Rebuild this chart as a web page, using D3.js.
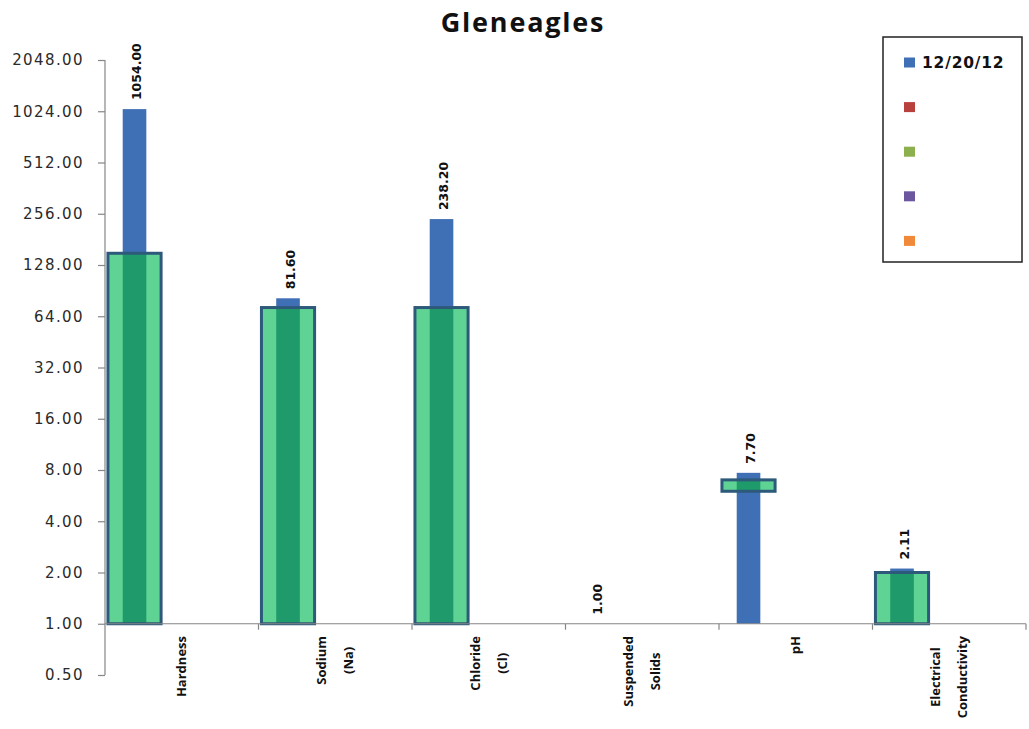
<!DOCTYPE html>
<html>
<head>
<meta charset="utf-8">
<script src="https://cdn.jsdelivr.net/npm/d3@7"></script>
<style>
  html, body { margin: 0; padding: 0; background: #fff; }
  svg { display: block; }
</style>
</head>
<body>
<svg id="chart" width="1029" height="729"></svg>
<script>
// Water quality parameters sampled at Gleneagles
const categories = ["Hardness", "Sodium (Na)", "Chloride (Cl)", "Suspended Solids", "pH", "Electrical Conductivity"];
// Sample results, 12/20/12
const sampleValues = [1054.00, 81.60, 238.20, 1.00, 7.70, 2.11];
// Guideline band drawn behind the results (lower / upper bound)
const guideLow  = [1, 1, 1, null, 6, 1];
const guideHigh = [150, 72, 72, null, 7, 2];
// Legend series (only the first one carries a date)
const seriesNames = ["12/20/12", "", "", "", ""];
// Y axis tick values (log base 2)
const yTicks = [0.5, 1, 2, 4, 8, 16, 32, 64, 128, 256, 512, 1024, 2048];

const seriesColors = ["#3f6fb4", "#b8403d", "#8cb04e", "#6a57a0", "#f08a3a"];
const guideFill = "#5fd393", guideStripe = "#1f9a6a", guideEdge = "#2d5a7b";

const svg = d3.select("#chart");
svg.append("rect").attr("width", 1029).attr("height", 729).attr("fill", "#fff");

const plot = { left: 105, right: 1026, top: 60, bottom: 675 };

const x = d3.scaleBand().domain(categories).range([plot.left, plot.right]).paddingInner(0).paddingOuter(0);
const cluster = d3.scaleBand().domain(d3.range(seriesNames.length)).range([0, x.bandwidth()])
  .paddingInner(0).paddingOuter(0.75);
const y = d3.scaleLog().base(2).domain([0.5, 2048]).range([plot.bottom, plot.top]);
const yBase = y(1);  // category axis crosses at 1.00

// Title
svg.append("text")
  .attr("x", 523).attr("y", 32)
  .attr("text-anchor", "middle")
  .attr("font-family", "'Open Sans', sans-serif")
  .attr("font-weight", "bold")
  .attr("font-size", 27)
  .attr("letter-spacing", 1.8)
  .attr("fill", "#111")
  .text("Gleneagles");

// Y axis
const yAxis = svg.append("g")
  .attr("transform", `translate(${plot.left},0)`)
  .call(d3.axisLeft(y).tickValues(yTicks).tickFormat(d3.format(".2f")).tickSize(7).tickPadding(14));
yAxis.select(".domain").attr("stroke", "#868686").attr("stroke-width", 1.2).attr("d", `M0,${plot.top}V${plot.bottom}`);
yAxis.selectAll(".tick line").attr("stroke", "#868686").attr("stroke-width", 1.2);
yAxis.selectAll(".tick text")
  .attr("font-family", "'DejaVu Sans', Verdana, sans-serif")
  .attr("font-size", 15)
  .attr("letter-spacing", 1.4)
  .attr("fill", "#2a2a2a");

const barW = cluster.bandwidth();
const centerOf = (c) => x(c) + cluster(0) + barW / 2;

// Sample bars (series 1)
svg.append("g").selectAll("rect")
  .data(categories.map((c, i) => ({ c, v: sampleValues[i] })))
  .join("rect")
  .attr("x", d => x(d.c) + cluster(0))
  .attr("width", barW)
  .attr("y", d => Math.min(y(d.v), yBase))
  .attr("height", d => Math.abs(yBase - y(d.v)))
  .attr("fill", seriesColors[0]);

// Guideline boxes over the bars
const guideW = barW * 2.25;
const guides = categories.map((c, i) => ({ c, lo: guideLow[i], hi: guideHigh[i] })).filter(d => d.hi != null);
const gg = svg.append("g");
gg.selectAll("rect.fill").data(guides).join("rect")
  .attr("class", "fill")
  .attr("x", d => centerOf(d.c) - guideW / 2)
  .attr("width", guideW)
  .attr("y", d => y(d.hi))
  .attr("height", d => y(d.lo) - y(d.hi))
  .attr("fill", guideFill);
gg.selectAll("rect.stripe").data(guides).join("rect")
  .attr("class", "stripe")
  .attr("x", d => centerOf(d.c) - barW / 2)
  .attr("width", barW)
  .attr("y", d => y(d.hi))
  .attr("height", d => y(d.lo) - y(d.hi))
  .attr("fill", guideStripe);
gg.selectAll("rect.edge").data(guides).join("rect")
  .attr("class", "edge")
  .attr("x", d => centerOf(d.c) - guideW / 2)
  .attr("width", guideW)
  .attr("y", d => y(d.hi))
  .attr("height", d => y(d.lo) - y(d.hi))
  .attr("fill", "none")
  .attr("stroke", guideEdge)
  .attr("stroke-width", 3);

// X axis line and category boundary ticks
const xAxis = svg.append("g");
xAxis.append("line")
  .attr("x1", plot.left).attr("x2", plot.right)
  .attr("y1", yBase).attr("y2", yBase)
  .attr("stroke", "#868686").attr("stroke-width", 1.2);
xAxis.selectAll("line.tick")
  .data(categories.map(c => x(c) + x.bandwidth()))
  .join("line")
  .attr("class", "tick")
  .attr("x1", d => d).attr("x2", d => d)
  .attr("y1", yBase).attr("y2", yBase + 6)
  .attr("stroke", "#868686").attr("stroke-width", 1.2);

// Category labels, rotated, wrapped on spaces
const labelFont = "'Open Sans', sans-serif";
categories.forEach((c) => {
  const lines = c.split(" ");
  const g = svg.append("g")
    .attr("transform", `translate(${x(c) + x.bandwidth() / 2},636) rotate(-90)`);
  const texts = lines.map((ln, j) => g.append("text")
    .attr("font-family", labelFont)
    .attr("font-weight", "bold")
    .attr("font-size", 13)
    .attr("fill", "#111")
    .attr("text-anchor", "middle")
    .attr("y", (j - (lines.length - 1) / 2) * 27)
    .attr("dy", "0.35em")
    .text(ln));
  const widest = d3.max(texts, t => t.node().getComputedTextLength());
  texts.forEach(t => t.attr("x", -widest / 2));
});

// Value labels above each sample bar
svg.append("g").selectAll("text")
  .data(categories.map((c, i) => ({ c, v: sampleValues[i] })))
  .join("text")
  .attr("transform", d => `translate(${centerOf(d.c) + 2},${Math.min(y(d.v), yBase) - 9}) rotate(-90)`)
  .attr("dy", "0.36em")
  .attr("font-family", "'DejaVu Sans', Verdana, sans-serif")
  .attr("font-weight", "bold")
  .attr("font-size", 12.5)
  .attr("fill", "#111")
  .text(d => d3.format(".2f")(d.v));

// Legend
const legend = svg.append("g");
legend.append("rect")
  .attr("x", 883).attr("y", 37).attr("width", 139).attr("height", 225)
  .attr("fill", "#fff").attr("stroke", "#222").attr("stroke-width", 1.5);
const entry = legend.selectAll("g.entry").data(seriesNames).join("g")
  .attr("class", "entry")
  .attr("transform", (d, i) => `translate(904,${62.5 + i * 44.6})`);
entry.append("rect")
  .attr("x", 0).attr("y", -5).attr("width", 11).attr("height", 10)
  .attr("fill", (d, i) => seriesColors[i]);
entry.append("text")
  .attr("x", 18).attr("dy", "0.36em")
  .attr("font-family", "'DejaVu Sans', Verdana, sans-serif")
  .attr("font-weight", "bold")
  .attr("font-size", 15.5)
  .attr("letter-spacing", 0.8)
  .attr("fill", "#111")
  .text(d => d);
</script>
</body>
</html>
